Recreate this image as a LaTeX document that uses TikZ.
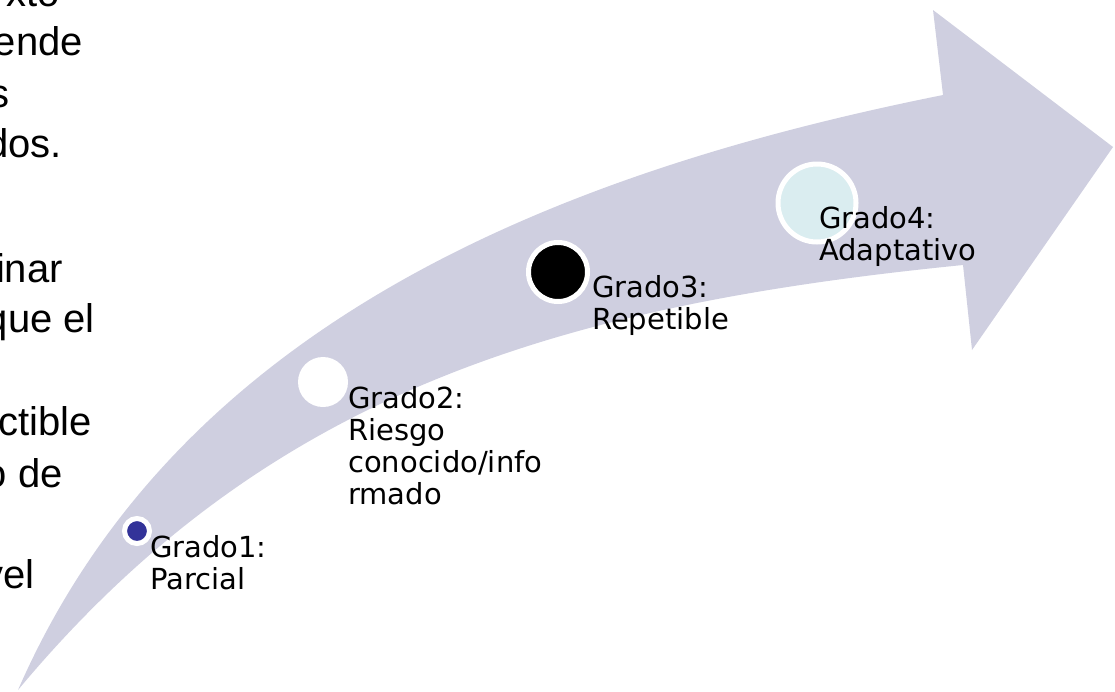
\documentclass[tikz,border=0pt]{standalone}
\usepackage{fontspec}
\setmainfont{Liberation Sans}
\newfontfamily\lblfont{DejaVu Sans}
\definecolor{arrowbody}{RGB}{207,207,224}
\definecolor{dotblue}{RGB}{51,51,153}
\definecolor{dotcyan}{RGB}{218,237,240}
\tikzset{
  bodytext/.style={anchor=base east, inner sep=0pt, font=\fontsize{40}{46}\selectfont},
  % multi-line labels: the base anchor sits on the last line
  gradelabel/.style={anchor=base west, inner sep=0pt, align=left, font=\lblfont\fontsize{29}{32}\selectfont},
  ringdot/.style={circle, inner sep=0pt, draw=white, line width=5pt},
}
\begin{document}
\begin{tikzpicture}[x=1pt, y=-1pt]
\useasboundingbox (0,0) rectangle (1115,691);
\begin{scope}
\clip (0,0) rectangle (1115,691);

% running text of the slide, cut at the left edge
\node[bodytext] (t1) at (60,6)   {xto};
\node[bodytext] (t2) at (83,55)  {ende};
\node[bodytext] (t3) at (10,107) {s};
\node[bodytext] (t4) at (62,157) {dos.};
\node[bodytext] (t5) at (63,282) {inar};
\node[bodytext] (t6) at (95,332) {que el};
\node[bodytext] (t7) at (92,435) {ctible};
\node[bodytext] (t8) at (63,487) {o de};
\node[bodytext] (t9) at (35,588) {vel};

% curved upward arrow
\fill[arrowbody] (18,690) .. controls (175,330) and (543,175) .. (943,95)
  -- (933,10) -- (1113,147) -- (972,350) -- (963,265)
  .. controls (563,305) and (268,390) .. (18,690) -- cycle;

% grade markers
\node[ringdot, fill=dotblue, minimum size=25pt] (c1) at (137,531) {};
\node[circle, inner sep=0pt, fill=white, minimum size=50pt] (c2) at (323,382) {};
\node[ringdot, fill=black, minimum size=59pt] (c3) at (558,272) {};
\node[ringdot, fill=dotcyan, minimum size=78pt] (c4) at (817,203) {};

% grade labels
\node[gradelabel] (g1) at (150,589) {Grado1:\\Parcial};
\node[gradelabel] (g2) at (348,504) {Grado2:\\Riesgo\\conocido/info\\rmado};
\node[gradelabel] (g3) at (592,329) {Grado3:\\Repetible};
\node[gradelabel] (g4) at (819,260) {Grado4:\\Adaptativo};
\end{scope}
\end{tikzpicture}
\end{document}
